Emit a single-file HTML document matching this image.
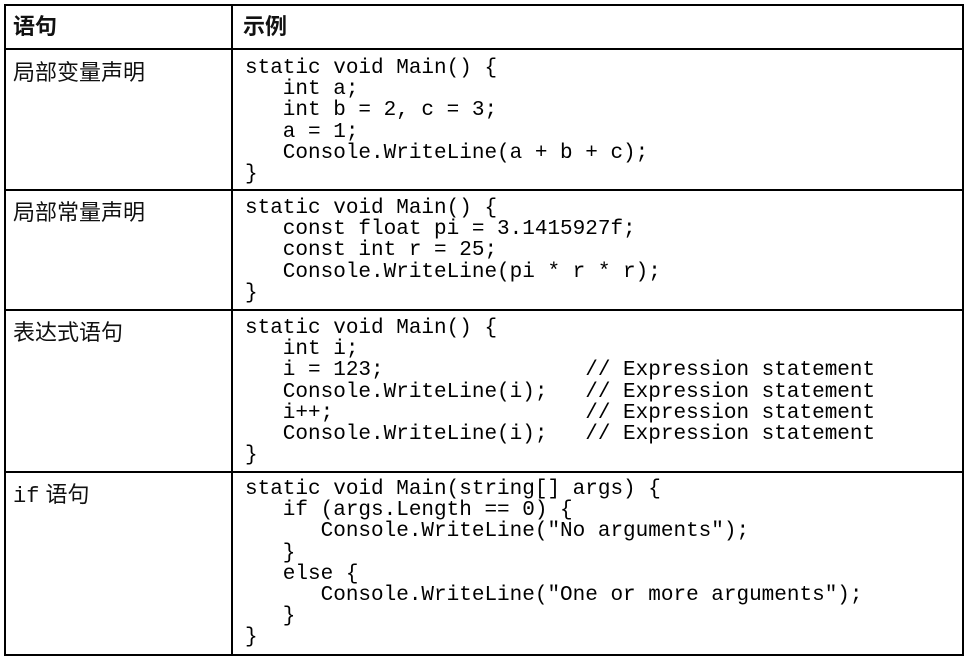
<!DOCTYPE html>
<html><head><meta charset="utf-8"><style>
body{margin:0;background:#fff;width:968px;height:657px;position:relative;overflow:hidden}
.b{position:absolute;background:#000}
.t{position:absolute;font-family:"Liberation Sans","Noto Sans CJK SC",sans-serif;font-size:22px;color:#111;line-height:24px}
pre{position:absolute;margin:0;font-family:"Liberation Mono",monospace;font-size:21px;line-height:21.2px;color:#000;left:245px}
</style></head><body>
<div class="b" style="left:4px;top:4px;width:960px;height:2px"></div>
<div class="b" style="left:4px;top:48px;width:960px;height:2px"></div>
<div class="b" style="left:4px;top:189px;width:960px;height:2px"></div>
<div class="b" style="left:4px;top:309px;width:960px;height:2px"></div>
<div class="b" style="left:4px;top:471px;width:960px;height:2px"></div>
<div class="b" style="left:4px;top:654px;width:960px;height:2px"></div>
<div class="b" style="left:4px;top:4px;width:2px;height:652px"></div>
<div class="b" style="left:231px;top:4px;width:2px;height:652px"></div>
<div class="b" style="left:962px;top:4px;width:2px;height:652px"></div>

<div class="t" style="left:13px;top:15px;font-weight:bold">语句</div>
<div class="t" style="left:243px;top:15px;font-weight:bold">示例</div>
<div class="t" style="left:13px;top:61px">局部变量声明</div>
<div class="t" style="left:13px;top:201px">局部常量声明</div>
<div class="t" style="left:13px;top:321px">表达式语句</div>
<div class="t" style="left:13px;top:483px"><span style="font-family:'Liberation Mono',monospace">if</span> 语句</div>

<pre style="top:58px">static void Main() {
   int a;
   int b = 2, c = 3;
   a = 1;
   Console.WriteLine(a + b + c);
}</pre>
<pre style="top:198px">static void Main() {
   const float pi = 3.1415927f;
   const int r = 25;
   Console.WriteLine(pi * r * r);
}</pre>
<pre style="top:318px">static void Main() {
   int i;
   i = 123;                // Expression statement
   Console.WriteLine(i);   // Expression statement
   i++;                    // Expression statement
   Console.WriteLine(i);   // Expression statement
}</pre>
<pre style="top:479px">static void Main(string[] args) {
   if (args.Length == 0) {
      Console.WriteLine("No arguments");
   }
   else {
      Console.WriteLine("One or more arguments");
   }
}</pre>
</body></html>
